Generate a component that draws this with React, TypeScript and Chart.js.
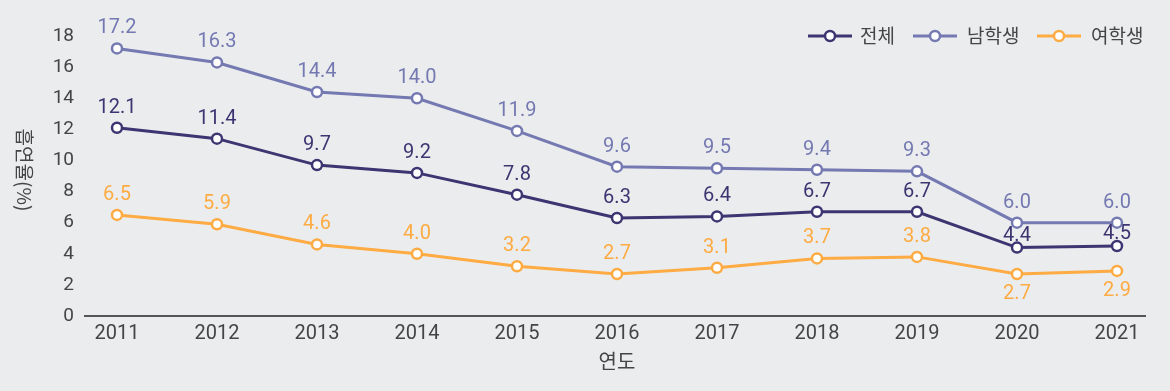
import React, { useEffect, useRef } from "react";
import { Chart, registerables } from "chart.js";

Chart.register(...registerables);

const years = [2011, 2012, 2013, 2014, 2015, 2016, 2017, 2018, 2019, 2020, 2021];
const totalRate = [12.1, 11.4, 9.7, 9.2, 7.8, 6.3, 6.4, 6.7, 6.7, 4.4, 4.5];
const maleRate = [17.2, 16.3, 14.4, 14.0, 11.9, 9.6, 9.5, 9.4, 9.3, 6.0, 6.0];
const femaleRate = [6.5, 5.9, 4.6, 4.0, 3.2, 2.7, 3.1, 3.7, 3.8, 2.7, 2.9];
const seriesNames = ["전체", "남학생", "여학생"];
const seriesColors = ["#3c3571", "#7479b1", "#fdab42"];
const yTitle = "흡연율(%)";
const xTitle = "연도";

const BG = "#ebecee";
const TEXT = "#454545";
const NUM_FONT = "Roboto, 'Noto Sans CJK KR', sans-serif";
const KR_FONT = "'Noto Sans CJK KR', Roboto, sans-serif";

const labelPlugin = {
  id: "valueLabels",
  afterDatasetsDraw(chart: any) {
    const ctx = chart.ctx;
    ctx.save();
    ctx.font = `20px ${NUM_FONT}`;
    ctx.textAlign = "center";
    ctx.textBaseline = "middle";
    chart.data.datasets.forEach((ds: any, di: number) => {
      const meta = chart.getDatasetMeta(di);
      ctx.fillStyle = ds.borderColor;
      meta.data.forEach((pt: any, i: number) => {
        const v = ds.data[i].y;
        let dy = -20;
        if (di === 0 && i >= 9) dy = -12;
        if (di === 2 && i >= 9) dy = 20;
        ctx.fillText(v.toFixed(1), pt.x, pt.y + dy);
      });
    });
    ctx.restore();
  },
};

const decorPlugin = {
  id: "decor",
  beforeDraw(chart: any) {
    const ctx = chart.ctx;
    ctx.save();
    ctx.fillStyle = BG;
    ctx.fillRect(0, 0, chart.width, chart.height);
    ctx.restore();
  },
  afterDraw(chart: any) {
    const ctx = chart.ctx;
    const area = chart.chartArea;
    ctx.save();
    // y title rotated clockwise
    ctx.fillStyle = TEXT;
    ctx.font = `19px ${KR_FONT}`;
    ctx.textAlign = "center";
    ctx.textBaseline = "middle";
    ctx.translate(24, (area.top + area.bottom) / 2 - 6);
    ctx.rotate(Math.PI / 2);
    ctx.fillText(yTitle, 0, 0);
    ctx.restore();

    ctx.save();
    ctx.fillStyle = TEXT;
    ctx.font = `20px ${KR_FONT}`;
    ctx.textAlign = "center";
    ctx.textBaseline = "middle";
    ctx.fillText(xTitle, (area.left + area.right) / 2 + 2, 361);
    ctx.restore();

    // legend
    const items = [
      { x: 808, tx: 860 },
      { x: 913, tx: 967 },
      { x: 1037, tx: 1091 },
    ];
    const ly = 36;
    ctx.save();
    items.forEach((it, i) => {
      const c = seriesColors[i];
      ctx.strokeStyle = c;
      ctx.lineWidth = 3;
      ctx.beginPath();
      ctx.moveTo(it.x, ly);
      ctx.lineTo(it.x + 44, ly);
      ctx.stroke();
      ctx.beginPath();
      ctx.arc(it.x + 22, ly, 5, 0, Math.PI * 2);
      ctx.fillStyle = "#ffffff";
      ctx.fill();
      ctx.lineWidth = 2.5;
      ctx.stroke();
      ctx.fillStyle = TEXT;
      ctx.font = `19px ${KR_FONT}`;
      ctx.textAlign = "left";
      ctx.textBaseline = "middle";
      ctx.fillText(seriesNames[i], it.tx, ly);
    });
    ctx.restore();
  },
};

export default function App() {
  const ref = useRef<HTMLCanvasElement | null>(null);

  useEffect(() => {
    document.body.style.margin = "0";
    document.body.style.background = BG;
    if (!ref.current) return;
    const mk = (vals: number[], i: number) => ({
      label: seriesNames[i],
      data: vals.map((v, k) => ({ x: years[k], y: v })),
      borderColor: seriesColors[i],
      backgroundColor: seriesColors[i],
      borderWidth: 3,
      pointRadius: 5,
      pointBorderWidth: 2.5,
      pointBackgroundColor: "#ffffff",
      pointBorderColor: seriesColors[i],
      tension: 0,
      clip: false as any,
    });
    const chart = new Chart(ref.current, {
      type: "line",
      data: {
        datasets: [mk(totalRate, 0), mk(maleRate, 1), mk(femaleRate, 2)],
      },
      options: {
        animation: false,
        responsive: false,
        events: [],
        layout: { padding: { top: 36, right: 25, left: 0, bottom: 0 } },
        plugins: {
          legend: { display: false },
          tooltip: { enabled: false },
          title: { display: false },
        },
        scales: {
          x: {
            type: "linear",
            min: 2010.68,
            max: 2021.28,
            afterBuildTicks: (s: any) => {
              s.ticks = years.map((v) => ({ value: v }));
            },
            afterFit: (s: any) => {
              s.height = 75;
            },
            grid: { display: false, drawTicks: false },
            border: { display: true, color: "#555555", width: 2 },
            ticks: {
              color: TEXT,
              font: { size: 20, family: NUM_FONT },
              padding: 6,
              callback: (v: any) => String(v),
            },
          },
          y: {
            min: 0,
            max: 18,
            afterFit: (s: any) => {
              s.width = 85;
            },
            grid: { display: false, drawTicks: false },
            border: { display: false },
            ticks: {
              stepSize: 2,
              color: TEXT,
              font: { size: 19, family: NUM_FONT },
              padding: 11,
            },
          },
        },
      },
      plugins: [decorPlugin, labelPlugin],
    });
    return () => chart.destroy();
  }, []);

  return (
    <div style={{ width: 1170, height: 391, background: BG }}>
      <canvas ref={ref} width={1170} height={391} style={{ display: "block" }} />
    </div>
  );
}
